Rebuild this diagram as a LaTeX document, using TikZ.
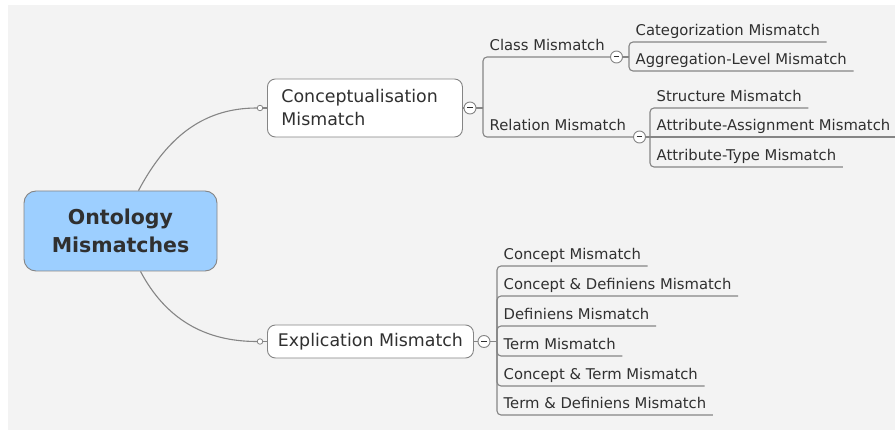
\documentclass[tikz,border=0pt]{standalone}
\usepackage{fontspec}
\setmainfont{DejaVu Sans}
\definecolor{bg}{HTML}{F3F3F3}
\definecolor{ln}{HTML}{858585}
\definecolor{txt}{HTML}{303030}
\definecolor{rootfill}{HTML}{9DCFFF}
\begin{document}
\begin{tikzpicture}[x=1pt,y=-1pt,
  conn/.style={draw=ln, line width=1.1pt},
  leaf/.style={anchor=south west, inner xsep=6.5pt, inner ysep=2pt, text depth=4pt,
    font=\fontsize{14.8}{17}\selectfont, text=txt},
  btn/.style={circle, draw=ln, fill=white, minimum size=12pt, inner sep=0pt, line width=0.9pt,
    path picture={\draw[txt, line width=1pt] ([xshift=-2.8pt]path picture bounding box.center) -- ([xshift=2.8pt]path picture bounding box.center);}},
  dot/.style={circle, draw=ln, fill=white, minimum size=5.5pt, inner sep=0pt, line width=0.8pt},
  topic/.style={rounded corners=8pt, draw=ln, fill=white, line width=0.9pt, text=txt,
    font=\fontsize{17.4}{23}\selectfont},
  rootbox/.style={rounded corners=12pt, draw=ln, fill=rootfill, line width=0.9pt, text=txt,
    minimum width=193pt, minimum height=80pt, align=center,
    font=\bfseries\fontsize{20.5}{28}\selectfont}
]
\useasboundingbox (0,0) rectangle (895,430);
\fill[white] (0,0) rectangle (895,430);
\fill[bg] (8,5) rectangle (895,430);

% root
\node[rootbox] (root) at (120.5,231) {Ontology\\Mismatches};

% main topics
\node[topic, anchor=west, minimum height=58pt, text width=167pt, inner xsep=14pt, align=left] (concept) at (267,108) {Conceptualisation\\Mismatch};
\node[topic, anchor=west, minimum height=33pt, inner xsep=10.5pt] (expl) at (267,341.5) {Explication Mismatch};

\node[dot] (dc) at (260,108) {};
\node[dot] (de) at (260,341.5) {};
\draw[conn] ([xshift=18pt]root.north) to[out=62,in=180] (dc.west);
\draw[conn] ([xshift=20pt]root.south) to[out=-62,in=180] (de.west);
\draw[conn] (dc.east) -- (concept.west);
\draw[conn] (de.east) -- (expl.west);

% conceptualisation branch
\node[btn] (bc) at (470,108) {};
\coordinate (brc) at (483,108);
\draw[conn] (concept.east) -- (bc.west);
\draw[conn] (bc.east) -- (brc);

\node[leaf] (class) at (483,57) {Class Mismatch};
\node[leaf] (rel) at (483,137) {Relation Mismatch};
\draw[conn, rounded corners=4pt] (brc) |- (class.south east);
\draw[conn, rounded corners=4pt] (brc) |- (rel.south east);

\node[btn] (bcl) at (616.5,57) {};
\coordinate (brcl) at (629,57);
\draw[conn] (bcl.east) -- (brcl);
\node[leaf] (cat) at (629,42) {Categorization Mismatch};
\node[leaf] (agg) at (629,71) {Aggregation-Level Mismatch};
\draw[conn, rounded corners=4pt] (brcl) |- (cat.south east);
\draw[conn, rounded corners=4pt] (brcl) |- (agg.south east);

\node[btn] (brl) at (639.5,137) {};
\coordinate (brrl) at (650,137);
\draw[conn] (brl.east) -- (brrl);
\node[leaf] (str) at (650,108) {Structure Mismatch};
\node[leaf] (aas) at (650,137) {Attribute-Assignment Mismatch};
\node[leaf] (aty) at (650,167) {Attribute-Type Mismatch};
\draw[conn, rounded corners=4pt] (brrl) |- (str.south east);
\draw[conn] (brrl) -- (aas.south east);
\draw[conn, rounded corners=4pt] (brrl) |- (aty.south east);

% explication branch
\node[btn] (be) at (484,341.5) {};
\coordinate (bre) at (497,341.5);
\draw[conn] (expl.east) -- (be.west);
\draw[conn] (be.east) -- (bre);
\node[leaf] (e1) at (497,266) {Concept Mismatch};
\node[leaf] (e2) at (497,296) {Concept \& Definiens Mismatch};
\node[leaf] (e3) at (497,326) {Definiens Mismatch};
\node[leaf] (e4) at (497,356) {Term Mismatch};
\node[leaf] (e5) at (497,386) {Concept \& Term Mismatch};
\node[leaf] (e6) at (497,415) {Term \& Definiens Mismatch};
\foreach \n in {e1,e2,e3,e4,e5,e6}
  \draw[conn, rounded corners=4pt] (bre) |- (\n.south east);
\end{tikzpicture}
\end{document}
